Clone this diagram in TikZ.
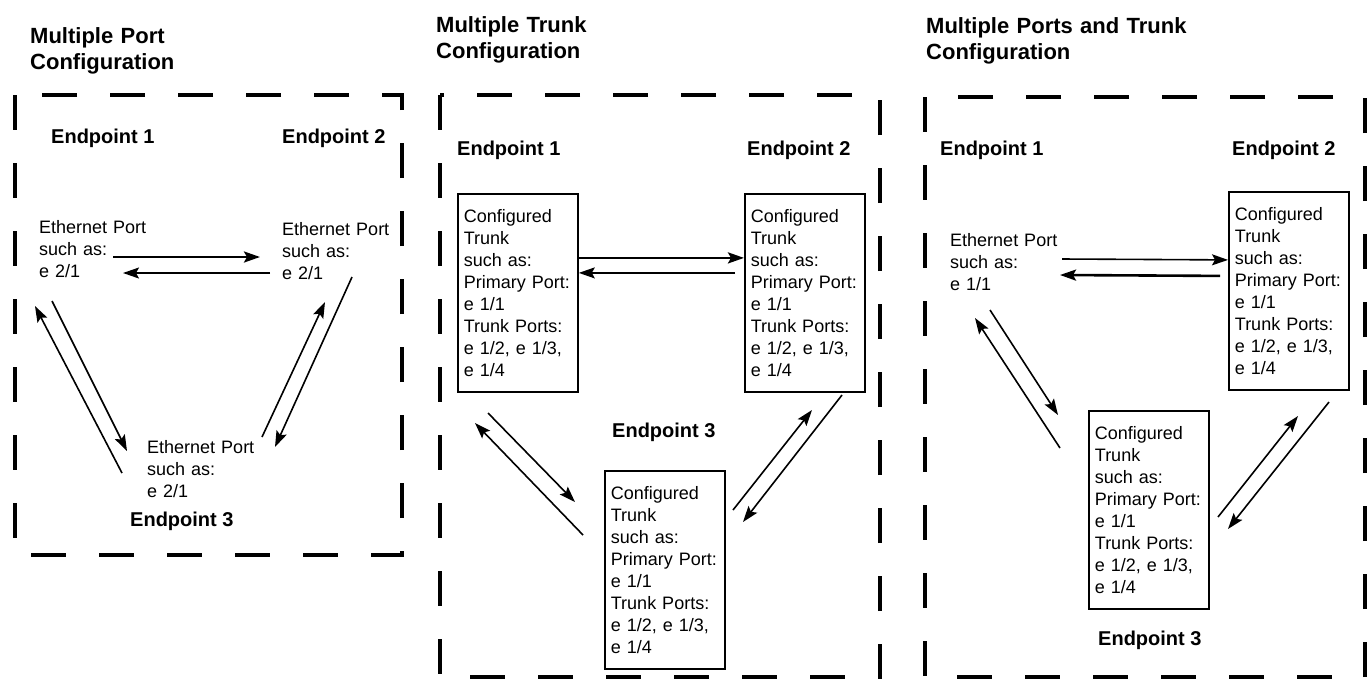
\documentclass[tikz,border=0pt]{standalone}
\usepackage{fontspec}
\setmainfont{Liberation Sans}
\usetikzlibrary{arrows.meta}

\begin{document}
\begin{tikzpicture}[x=1pt,y=-1pt]

	% 定义样式
	\tikzset{
		paneltitle/.style={anchor=base west, inner sep=0pt, text width=320pt,
			align=left, font=\fontsize{22}{26}\selectfont\bfseries},
		endpt/.style={anchor=base west, inner sep=0pt,
			font=\fontsize{20}{24}\selectfont\bfseries},
		port/.style={anchor=base west, inner sep=0pt, text width=125pt,
			align=left, font=\fontsize{18}{22}\selectfont},
		trunkbox/.style={draw, line width=1.8pt, anchor=north west,
			text width=108pt, inner xsep=6pt, minimum height=198pt,
			align=left, font=\fontsize{18}{22}\selectfont},
		zone/.style={line width=4pt, dash pattern=on 35pt off 33pt},
		fwd/.style={line width=1.6pt, -{Stealth[length=16pt,width=11pt,inset=3pt]}},
		fwdthick/.style={fwd, line width=2.6pt}
	}
	
	% 参数设置
	\def \porttext {Ethernet Port\\such as:\\e 2/1}
	\def \trunktext {Configured\\Trunk\\such as:\\Primary Port:\\e 1/1\\Trunk Ports:\\e 1/2, e 1/3,\\e 1/4}
	
	\useasboundingbox (0,0) rectangle (1372,681);
	
	% 虚线框
	\draw[zone] (15,95) rectangle (402,555);
	\draw[zone] (440,95) rectangle (880,677);
	\draw[zone] (925,97) rectangle (1365,677);
	
	% 第一部分
	\node[paneltitle] (t1) at (30,43) {Multiple Port\\Configuration};
	\node[endpt] (p1n1) at (51,143) {Endpoint 1};
	\node[endpt] (p1n2) at (282,143) {Endpoint 2};
	\node[endpt] (p1n3) at (130,526) {Endpoint 3};
	\node[port] (p1e1) at (39,233) {\porttext};
	\node[port] (p1e2) at (282,235) {\porttext};
	\node[port] (p1e3) at (147,453) {\porttext};
	
	\coordinate (h1s) at (113,257); \coordinate (h1e) at (260,257);
	\coordinate (h2s) at (270,273); \coordinate (h2e) at (123,273);
	\coordinate (d1s) at (52,301);  \coordinate (d1e) at (127,451);
	\coordinate (d2s) at (122,473); \coordinate (d2e) at (35,306);
	\coordinate (d3s) at (262,437); \coordinate (d3e) at (325,302);
	\coordinate (d4s) at (352,277); \coordinate (d4e) at (275,447);
	
	\draw[fwdthick] (h1s) -- (h1e);
	\draw[fwd] (h2s) -- (h2e);
	
	% 第二部分
	\node[paneltitle] (t2) at (436,32) {Multiple Trunk\\Configuration};
	\node[endpt] (p2n1) at (457,155) {Endpoint 1};
	\node[endpt] (p2n2) at (747,155) {Endpoint 2};
	\node[endpt] (p2n3) at (612,437) {Endpoint 3};
	\node[trunkbox] (b21) at (457,193) {\trunktext};
	\node[trunkbox] (b22) at (744,193) {\trunktext};
	\node[trunkbox] (b23) at (604,470) {\trunktext};
	
	\draw[fwdthick] ([yshift=35pt]b21.east) -- ([yshift=35pt]b22.west);
	\draw[fwd] ([yshift=20pt,xshift=-9pt]b22.west) -- ([yshift=20pt]b21.east);
	
	\coordinate (d5s) at (488,413); \coordinate (d5e) at (575,502);
	\coordinate (d6s) at (583,535); \coordinate (d6e) at (475,423);
	\coordinate (d7s) at (733,510); \coordinate (d7e) at (812,410);
	\coordinate (d8s) at (842,395); \coordinate (d8e) at (743,522);
	
	% 第三部分
	\node[paneltitle] (t3) at (926,33) {Multiple Ports and Trunk\\Configuration};
	\node[endpt] (p3n1) at (940,155) {Endpoint 1};
	\node[endpt] (p3n2) at (1232,155) {Endpoint 2};
	\node[endpt] (p3n3) at (1098,645) {Endpoint 3};
	\node[port] (p3e1) at (950,246) {Ethernet Port\\such as:\\e 1/1};
	\node[trunkbox] (b32) at (1228,191) {\trunktext};
	\node[trunkbox] (b33) at (1088,410) {\trunktext};
	
	\coordinate (h3s) at (1062,259);
	\coordinate (h4e) at (1060,275);
	\draw[fwd] (h3s) -- ([yshift=31pt]b32.west);
	\draw[fwdthick] ([yshift=15pt,xshift=-8pt]b32.west) -- (h4e);
	
	\coordinate (d9s) at (990,310);   \coordinate (d9e) at (1058,415);
	\coordinate (d10s) at (1060,448); \coordinate (d10e) at (975,318);
	\coordinate (d11s) at (1218,517); \coordinate (d11e) at (1298,416);
	\coordinate (d12s) at (1329,402); \coordinate (d12e) at (1228,529);
	
	% 斜向箭头
	\foreach \s in {1,...,12} {
		\draw[fwd] (d\s s) -- (d\s e);
	}
	
\end{tikzpicture}
\end{document}
